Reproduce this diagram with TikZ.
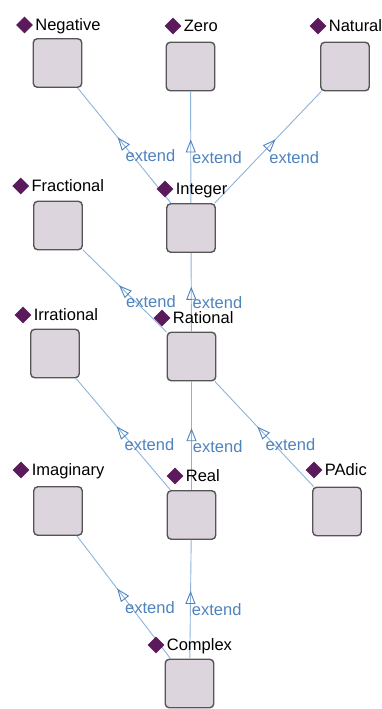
\documentclass[tikz,border=0pt]{standalone}
\usepackage{fontspec}
\setmainfont{Liberation Sans}
\usetikzlibrary{arrows.meta,positioning,shapes.geometric,decorations.markings}
\definecolor{boxfill}{HTML}{DDD5DE}
\definecolor{boxline}{HTML}{555555}
\definecolor{classmark}{HTML}{5A1A5C}
\definecolor{edge}{HTML}{8DB3D9}
\definecolor{extblue}{HTML}{4E83BD}

\begin{document}
\begin{tikzpicture}[x=1pt,y=-1pt,
  every node/.style={font=\fontsize{16.5}{18}\selectfont},
  cls/.style={draw=boxline,line width=1.4pt,fill=boxfill,rounded corners=4pt,
    minimum size=48.5pt,inner sep=0pt},
  dia/.style={diamond,fill=classmark,minimum size=17pt,inner sep=0pt},
  lbl/.style={inner sep=0pt,text height=11.8pt,text depth=0pt},
  ext/.style={draw=edge,line width=0.9pt,postaction={decorate},
    decoration={markings,mark=at position 0.57 with
      {\arrow[draw=extblue,line width=0.9pt]{Triangle[open,length=13pt,width=10pt]}}}},
  extl/.style={anchor=north west,inner sep=0pt,text height=11.8pt,text depth=0pt,
    xshift=1pt,yshift=-4pt,text=extblue}]
  \useasboundingbox (0,0) rectangle (382,709);

  % class boxes
  \node[cls] (neg) at (57.5,63) {};
  \node[cls] (zero) at (190.5,66.5) {};
  \node[cls] (nat) at (345,66.5) {};
  \node[cls] (frac) at (58,225.5) {};
  \node[cls] (int) at (191,228) {};
  \node[cls] (irr) at (55,353.5) {};
  \node[cls] (rat) at (191.5,356.5) {};
  \node[cls] (imag) at (58,511) {};
  \node[cls] (real) at (191.5,515) {};
  \node[cls] (padic) at (337,511.5) {};
  \node[cls] (cplx) at (189.5,683.5) {};

  % extend links, child -> parent
  \draw[ext] (int) -- node[extl] {extend} (neg);
  \draw[ext] (int) -- node[extl] {extend} (zero);
  \draw[ext] (int) -- node[extl] {extend} (nat);
  \draw[ext] (rat) -- node[extl] {extend} (frac);
  \draw[ext] (rat) -- node[extl] {extend} (int);
  \draw[ext] (real) -- node[extl] {extend} (irr);
  \draw[ext] (real) -- node[extl] {extend} (rat);
  \draw[ext] (padic) -- node[extl] {extend} (rat);
  \draw[ext] (cplx) -- node[extl] {extend} (imag);
  \draw[ext] (cplx) -- node[extl] {extend} (real);

  % class names
  \node[dia] (negdia) at (24.5,25) {};
  \node[lbl,right=2pt of negdia] (neglbl) {Negative};
  \node[dia] (zerodia) at (173,26) {};
  \node[lbl,right=2pt of zerodia] (zerolbl) {Zero};
  \node[dia] (natdia) at (318,26) {};
  \node[lbl,right=2pt of natdia] (natlbl) {Natural};
  \node[dia] (fracdia) at (20.7,186) {};
  \node[lbl,right=2pt of fracdia] (fraclbl) {Fractional};
  \node[dia] (intdia) at (165,189) {};
  \node[lbl,right=2pt of intdia] (intlbl) {Integer};
  \node[dia] (irrdia) at (23,315) {};
  \node[lbl,right=2pt of irrdia] (irrlbl) {Irrational};
  \node[dia] (ratdia) at (162,318) {};
  \node[lbl,right=2pt of ratdia] (ratlbl) {Rational};
  \node[dia] (imagdia) at (21,470) {};
  \node[lbl,right=2pt of imagdia] (imaglbl) {Imaginary};
  \node[dia] (realdia) at (175,476) {};
  \node[lbl,right=2pt of realdia] (reallbl) {Real};
  \node[dia] (padicdia) at (314,470) {};
  \node[lbl,right=2pt of padicdia] (padiclbl) {PAdic};
  \node[dia] (cplxdia) at (156,645) {};
  \node[lbl,right=2pt of cplxdia] (cplxlbl) {Complex};
\end{tikzpicture}
\end{document}
